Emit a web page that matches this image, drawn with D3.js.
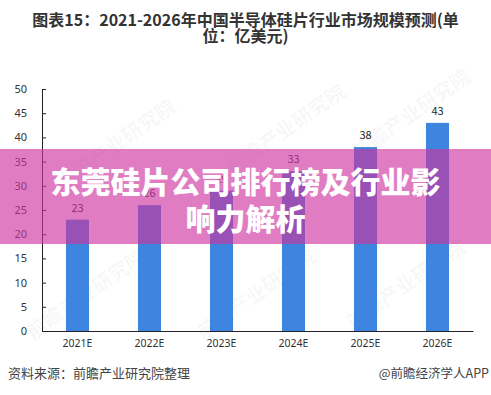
<!DOCTYPE html>
<html>
<head>
<meta charset="utf-8">
<script src="https://d3js.org/d3.v7.min.js"></script>
<style>
  body { margin: 0; background: #fff; }
  svg { display: block; font-family: "Noto Sans CJK SC", "Noto Sans", sans-serif; }
</style>
</head>
<body>
<div id="chart"></div>
<script>
// chart data
var years = ['2021E', '2022E', '2023E', '2024E', '2025E', '2026E'];
var market_size = [23, 26, 29, 33, 38, 43];
var y_ticks = [0, 5, 10, 15, 20, 25, 30, 35, 40, 45, 50];
var title_lines = ['图表15：2021-2026年中国半导体硅片行业市场规模预测(单', '位：亿美元)'];
var banner_lines = ['东莞硅片公司排行榜及行业影', '响力解析'];
var source_text = '资料来源：前瞻产业研究院整理';
var brand_text = '@前瞻经济学人APP';

function build_chart(){
    var W = 491, H = 395;
    var margin = {top: 89, right: 18, bottom: 64, left: 42};

    var svg = d3.select('#chart').append('svg')
        .attr('width', W)
        .attr('height', H);

    var x = d3.scaleBand().domain(years)
        .range([margin.left, W - margin.right])
        .paddingInner(0.68)
        .paddingOuter(0.333);
    var y = d3.scaleLinear().domain([0, 50]).range([H - margin.bottom, margin.top]);

    add_watermarks(svg);

    // Title (two lines)
    svg.selectAll('.title')
        .data(title_lines)
        .enter().append('text')
        .attr('class', 'title')
        .attr('x', W/2)
        .attr('y', function(d, i){ return 26 + i*16; })
        .attr('text-anchor', 'middle')
        .style('font-size', '16px')
        .style('font-weight', 'bold')
        .style('fill', '#333')
        .text(function(d){ return d; });

    // bars
    svg.selectAll('.bar')
        .data(market_size)
        .enter().append('rect')
        .attr('class', 'bar')
        .attr('x', function(d, i){ return x(years[i]); })
        .attr('y', function(d){ return y(d); })
        .attr('width', x.bandwidth())
        .attr('height', function(d){ return y(0) - y(d); })
        .style('fill', '#3d85de');

    // value labels
    svg.selectAll('.val')
        .data(market_size)
        .enter().append('text')
        .attr('class', 'val')
        .attr('x', function(d, i){ return x(years[i]) + x.bandwidth()/2; })
        .attr('y', function(d){ return y(d) - 8; })
        .attr('text-anchor', 'middle')
        .style('font-size', '11px')
        .style('fill', '#262626')
        .text(function(d){ return d; });

    // Y axis
    var yAxis = svg.append('g')
        .attr('transform', 'translate(' + margin.left + ',0)')
        .call(d3.axisLeft(y).tickValues(y_ticks).tickSize(-4).tickSizeOuter(0).tickPadding(15));
    yAxis.select('.domain').attr('stroke', '#222');
    yAxis.selectAll('.tick line').attr('stroke', '#222');
    yAxis.selectAll('.tick text')
        .style('font-size', '11px')
        .style('font-family', '"Noto Sans", sans-serif')
        .attr('fill', '#333');

    // X axis
    var xAxis = svg.append('g')
        .attr('transform', 'translate(0,' + y(0) + ')')
        .call(d3.axisBottom(x).tickSize(0).tickSizeOuter(0).tickPadding(9));
    xAxis.select('.domain').attr('stroke', '#222');
    xAxis.selectAll('.tick text')
        .style('font-size', '10.5px')
        .style('font-family', '"Noto Sans", sans-serif')
        .attr('fill', '#333');

    // footer
    svg.append('text')
        .attr('x', 8)
        .attr('y', 378)
        .style('font-size', '13px')
        .style('fill', '#444')
        .text(source_text);

    svg.append('text')
        .attr('x', 489)
        .attr('y', 378)
        .attr('text-anchor', 'end')
        .style('font-size', '12.5px')
        .style('fill', '#444')
        .text(brand_text);

    add_banner(svg, W);
}

// faint diagonal watermarks
function add_watermarks(svg){
    var spots = [[120, 150], [290, 135], [415, 120], [90, 300], [260, 300], [410, 290]];
    svg.selectAll('.wm')
        .data(spots)
        .enter().append('text')
        .attr('class', 'wm')
        .attr('transform', function(d){ return 'translate(' + d[0] + ',' + d[1] + ') rotate(-35)'; })
        .attr('text-anchor', 'middle')
        .style('font-size', '20px')
        .style('font-weight', 'bold')
        .style('fill', '#000')
        .style('fill-opacity', 0.045)
        .text('前瞻产业研究院');
}

// pink overlay band with headline
function add_banner(svg, W){
    svg.append('rect')
        .attr('x', 0)
        .attr('y', 149)
        .attr('width', W)
        .attr('height', 95)
        .style('fill', 'rgb(207,52,160)')
        .style('fill-opacity', 0.64);

    svg.selectAll('.banner')
        .data(banner_lines)
        .enter().append('text')
        .attr('class', 'banner')
        .attr('x', W/2)
        .attr('y', function(d, i){ return 193 + i*37; })
        .attr('text-anchor', 'middle')
        .style('font-size', '30px')
        .style('font-weight', '900')
        .style('fill', '#fff')
        .text(function(d){ return d; });
}

build_chart();
</script>
</body>
</html>
